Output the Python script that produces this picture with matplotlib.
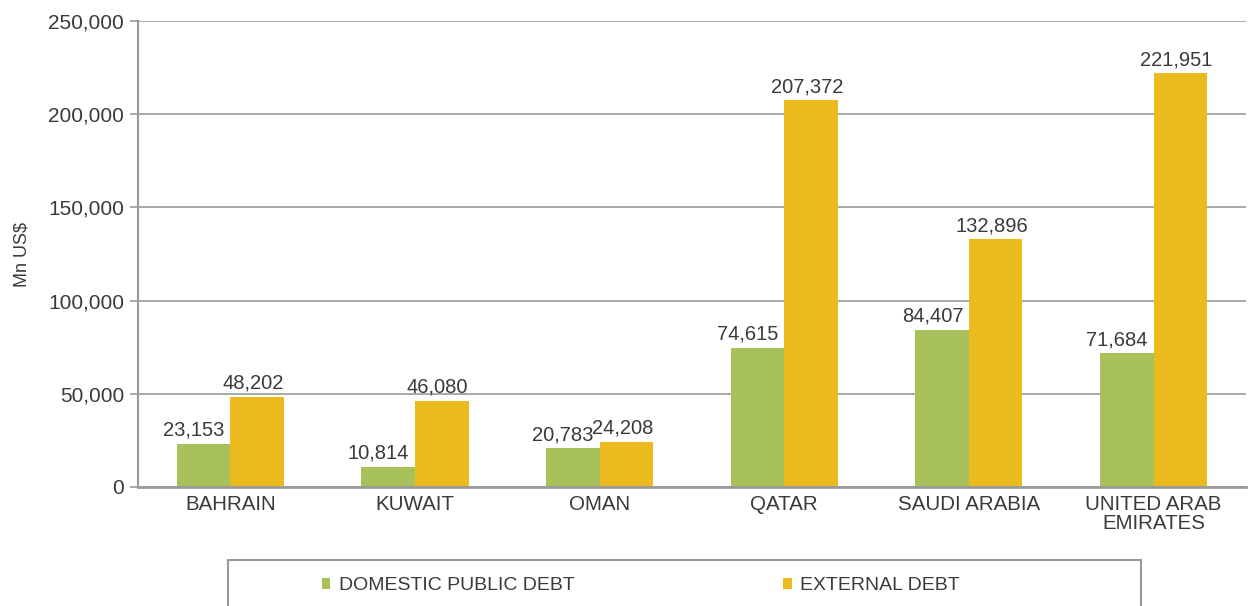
import matplotlib.pyplot as plt
import numpy as np
from matplotlib.patches import Rectangle
from matplotlib.ticker import FuncFormatter

plt.rcParams['font.family'] = ['Liberation Sans', 'DejaVu Sans']

# data
countries = ['BAHRAIN', 'KUWAIT', 'OMAN', 'QATAR', 'SAUDI ARABIA', 'UNITED ARAB\nEMIRATES']
domestic = [23153, 10814, 20783, 74615, 84407, 71684]
external = [48202, 46080, 24208, 207372, 132896, 221951]

green = '#A9C15B'
yellow = '#EBBA1F'
txt = '#3a3a3a'
grey = '#999999'

fig = plt.figure(figsize=(12.49, 6.06), dpi=100)
ax = fig.add_axes([0.1105, 0.1964, 0.887, 0.7689])

x = np.arange(len(countries))
w = 0.29
b1 = ax.bar(x - w / 2, domestic, w, color=green, zorder=3)
b2 = ax.bar(x + w / 2, external, w, color=yellow, zorder=3)

for rect, v in zip(b1, domestic):
    ax.annotate(f'{v:,}', (rect.get_x() + rect.get_width() / 2, v),
                xytext=(-7, 3), textcoords='offset points', ha='center', va='bottom',
                fontsize=14.5, color=txt)
for rect, v in zip(b2, external):
    ax.annotate(f'{v:,}', (rect.get_x() + rect.get_width() / 2, v),
                xytext=(-3, 3), textcoords='offset points', ha='center', va='bottom',
                fontsize=14.5, color=txt)

ax.set_xlim(-0.5, len(countries) - 0.5)
ax.set_ylim(0, 250000)
ax.set_yticks(range(0, 250001, 50000))
ax.yaxis.set_major_formatter(FuncFormatter(lambda v, p: f'{int(v):,}'))
ax.set_xticks(x)
ax.set_xticklabels(countries, fontsize=14.8, color=txt, linespacing=0.95)
ax.tick_params(axis='x', length=0, pad=6)
ax.tick_params(axis='y', length=6, width=1.2, color=grey, labelsize=15, labelcolor=txt, pad=4)
ax.grid(axis='y', color=grey, linewidth=1.2, zorder=0)

for s in ['top', 'right']:
    ax.spines[s].set_visible(False)
ax.spines['left'].set_color(grey)
ax.spines['left'].set_linewidth(1.5)
ax.spines['bottom'].set_color(grey)
ax.spines['bottom'].set_linewidth(2)
ax.spines['bottom'].set_zorder(4)

ax.set_ylabel('Mn US$', fontsize=13, color=txt)
ax.yaxis.set_label_coords(-0.097, 0.5)

# legend box (runs off the bottom)
fig.patches.append(Rectangle((228 / 1249, -0.1), (1141 - 228) / 1249, 0.1 + 46 / 606,
                             transform=fig.transFigure, fill=False, edgecolor=grey,
                             linewidth=1.5))
fig.legend([b1, b2], ['DOMESTIC PUBLIC DEBT', 'EXTERNAL DEBT'], ncol=2,
           loc='center left', bbox_to_anchor=(304 / 1249, 20 / 606), frameon=False,
           fontsize=14, handlelength=0.45, handleheight=0.5, handletextpad=0.45,
           columnspacing=10.7, labelcolor=txt)

fig.savefig('out.png', dpi=100)
